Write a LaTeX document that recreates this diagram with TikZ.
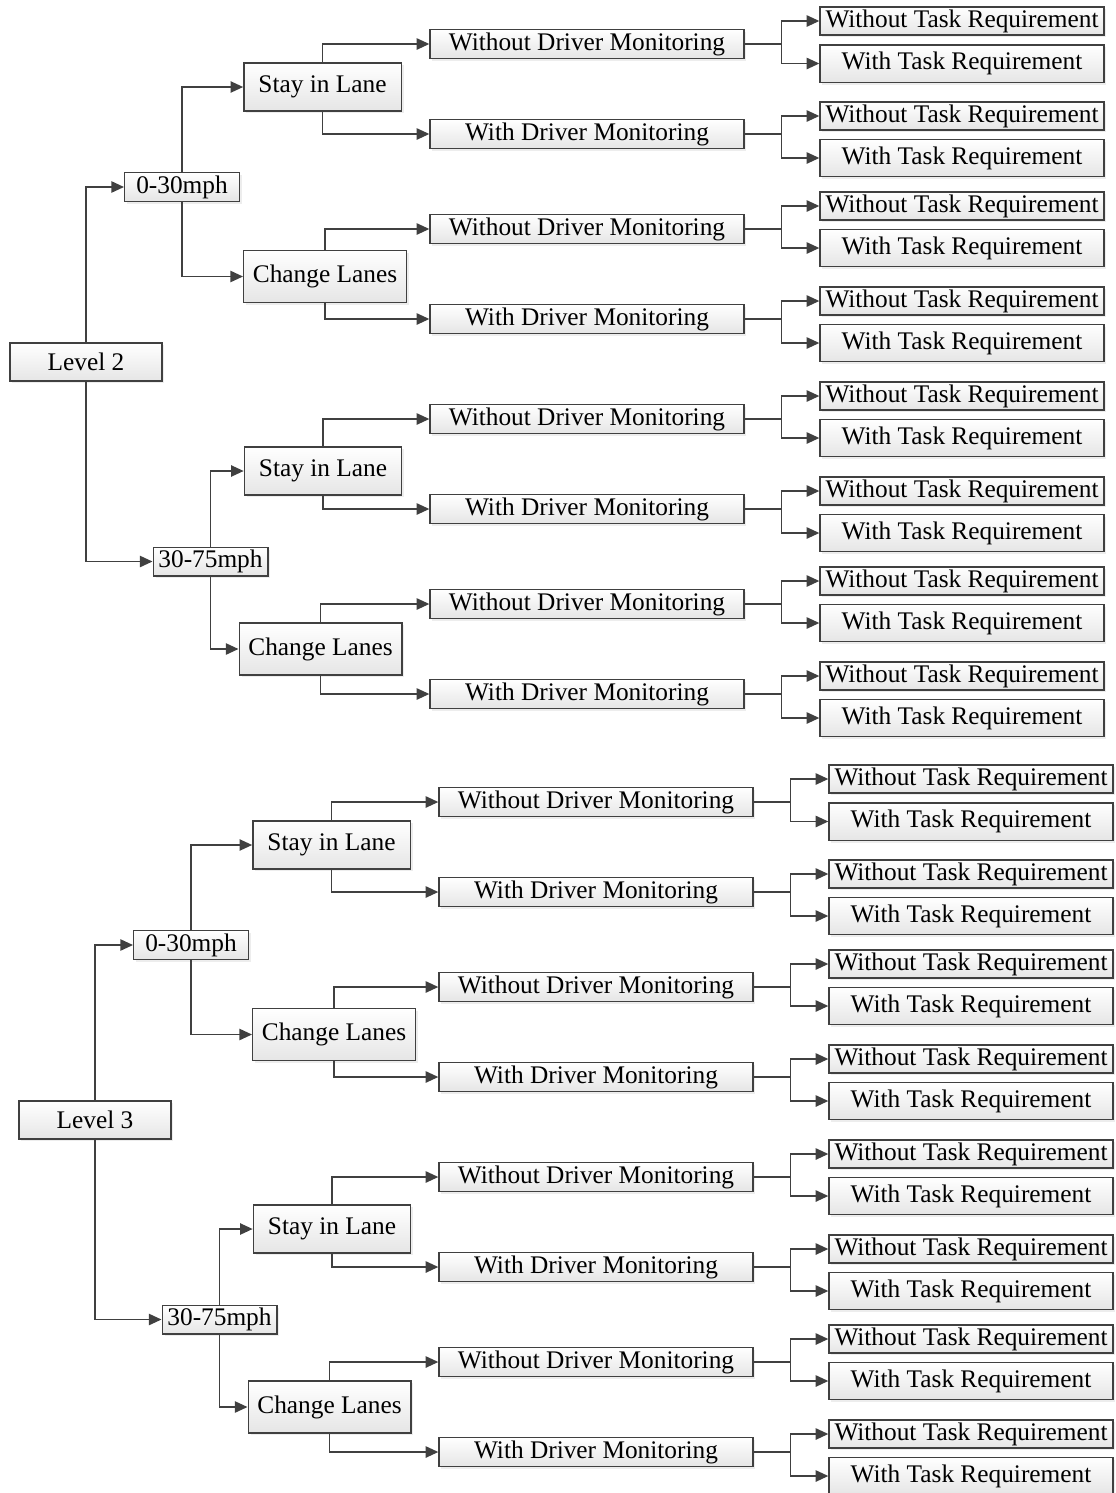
\documentclass[tikz,border=0pt]{standalone}
\usepackage{fontspec}
\setmainfont{Liberation Serif}
\usetikzlibrary{arrows.meta,shadows}
\definecolor{linegray}{HTML}{404040}

\begin{document}
\begin{tikzpicture}[x=0.75pt,y=-0.75pt,
every node/.style={font=\fontsize{19}{22}\selectfont},
box/.style={draw=linegray, line width=1pt, top color=white, bottom color=gray!20, inner sep=0pt,
  drop shadow={shadow xshift=1.8pt, shadow yshift=-1.8pt, opacity=0.2, fill=gray!70}},
levelbox/.style={box, minimum width=114pt, minimum height=28.5pt},
speedbox/.style={box, minimum width=86pt, minimum height=21.5pt},
staybox/.style={box, minimum width=118pt, minimum height=36pt},
changebox/.style={box, minimum width=122pt, minimum height=39pt},
monitorbox/.style={box, minimum width=235.5pt, minimum height=21.5pt},
notaskbox/.style={box, minimum width=213pt, minimum height=21pt},
taskbox/.style={box, minimum width=213pt, minimum height=28pt},
arrow/.style={draw=linegray, line width=1.2pt, -{Triangle[length=9.5pt,width=8.5pt]}},
branch/.style={draw=linegray, line width=1.2pt}
]
\useasboundingbox (0,0) rectangle (1115,1493);
\foreach \lv/\dx/\dy in {2/0/0,3/9/758}{
\begin{scope}[shift={(\dx,\dy)}]
% Level
\node[levelbox] (L\lv) at (86,362) {Level \lv};
% Speed
\node[speedbox] (L\lv-a) at (182,187) {0-30mph};
\node[speedbox] (L\lv-b) at (210.5,561.5) {30-75mph};
% Lane
\node[staybox] (L\lv-a1) at (322.5,87) {Stay in Lane};
\node[changebox] (L\lv-a2) at (325,276.5) {Change Lanes};
\node[staybox] (L\lv-b1) at (323,471) {Stay in Lane};
\node[changebox] (L\lv-b2) at (320.5,649) {Change Lanes};
% Monitoring
\foreach \m/\y/\t in {a1x/44/Without, a1y/134/With, a2x/229/Without, a2y/319/With,
  b1x/419/Without, b1y/509/With, b2x/604/Without, b2y/694/With}
  \node[monitorbox] (L\lv-\m) at (587,\y) {\t\ Driver Monitoring};
% Task
\foreach \m/\p/\q in {a1x/21/63.5, a1y/116/158, a2x/206/248, a2y/301/343,
  b1x/396/438, b1y/491/533, b2x/581/623, b2y/676/718}{
  \node[notaskbox] (L\lv-\m-o) at (962,\p) {Without Task Requirement};
  \node[taskbox] (L\lv-\m-w) at (962,\q) {With Task Requirement};
  \draw[branch] (L\lv-\m.east) -- ++(37,0) coordinate (L\lv-\m-f);
  \draw[arrow] (L\lv-\m-f) |- (L\lv-\m-o);
  \draw[arrow] (L\lv-\m-f) |- (L\lv-\m-w);
}
% Edges
\draw[arrow] (L\lv.north) |- (L\lv-a);
\draw[arrow] (L\lv.south) |- (L\lv-b);
\draw[arrow] (L\lv-a.north) |- (L\lv-a1);
\draw[arrow] (L\lv-a.south) |- (L\lv-a2);
\draw[arrow] (L\lv-b.north) |- (L\lv-b1);
\draw[arrow] (L\lv-b.south) |- (L\lv-b2);
\foreach \k in {a1,a2,b1,b2}{
  \draw[arrow] (L\lv-\k.north) |- (L\lv-\k x);
  \draw[arrow] (L\lv-\k.south) |- (L\lv-\k y);
}
\end{scope}
}
\end{tikzpicture}
\end{document}
